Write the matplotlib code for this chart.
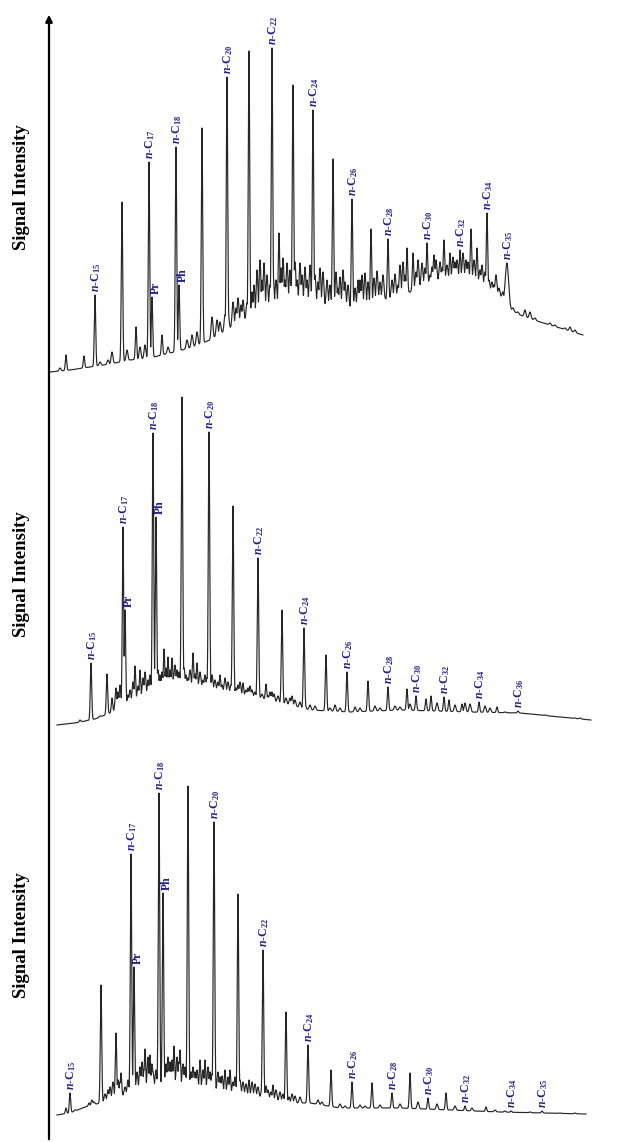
import numpy as np
import matplotlib
matplotlib.use("Agg")
import matplotlib.pyplot as plt

plt.rcParams['font.family'] = ['Liberation Serif', 'DejaVu Serif']
plt.rcParams['mathtext.fontset'] = 'custom'
plt.rcParams['mathtext.rm'] = 'Liberation Serif:bold'
plt.rcParams['mathtext.it'] = 'Liberation Serif:italic:bold'
plt.rcParams['mathtext.bf'] = 'Liberation Serif:bold'
plt.rcParams['mathtext.default'] = 'rm'

# --- Sample 1 (top) : retention position / signal ---
s1_base_rt = [50, 70, 90, 110, 130, 150, 170, 190, 210, 230, 245, 255, 270, 290, 310, 330,
              350, 370, 380, 400, 420, 440, 460, 475, 490, 500, 508, 520, 540, 560, 583]
s1_base_lv = [8, 10, 13, 16, 20, 22, 27, 32, 40, 52, 60, 62, 72, 78, 75, 73,
              72, 73, 80, 83, 93, 100, 103, 100, 90, 85, 72, 65, 58, 52, 45]
s1_peak_rt = [66, 84, 95, 122, 136, 149, 152, 162, 176, 179, 202, 227, 249, 272, 279, 293,
              313, 333, 352, 371, 388, 407, 413, 427, 444, 450, 460, 471, 477, 487, 507]
s1_peak_lv = [25, 24, 85, 178, 53, 218, 83, 45, 233, 95, 252, 303, 329, 332, 147, 295,
              270, 221, 181, 151, 141, 132, 127, 137, 140, 127, 130, 151, 132, 167, 117]
s1_names = ['', '', '15', '', '', '17', 'Pr', '', '18', 'Ph', '', '20', '', '22', '', '',
            '24', '', '26', '', '28', '', '', '30', '', '', '32', '', '', '34', '35']
s1_grass_rt = [60, 100, 108, 112, 127, 140, 145, 168, 187, 192, 197, 212, 217, 220, 225, 228,
               233, 236, 238, 241, 243, 247, 252, 254, 257, 260, 262, 264, 267, 270, 273, 276,
               281, 283, 285, 287, 290, 292, 295, 297, 300, 302, 305, 307, 310, 315, 318, 320,
               323, 327, 330, 336, 338, 340, 343, 345, 348, 355, 358, 360, 362, 365, 368, 374,
               377, 380, 383, 392, 395, 398, 400, 403, 405, 416, 418, 422, 425, 430, 432, 434,
               436, 440, 442, 447, 453, 455, 457, 463, 466, 468, 474, 480, 482, 485, 489, 492,
               494, 496, 499, 503, 513, 518, 525, 530, 535, 550, 555, 565, 570, 575]
s1_grass_lv = [12, 18, 20, 28, 30, 33, 35, 33, 40, 45, 48, 63, 60, 58, 65, 70,
               78, 72, 82, 75, 80, 77, 88, 95, 110, 120, 100, 117, 105, 95, 108, 100,
               112, 122, 100, 117, 110, 105, 118, 100, 117, 105, 113, 100, 115, 105, 98, 112,
               108, 100, 95, 108, 92, 103, 110, 98, 95, 92, 100, 100, 105, 107, 98, 102,
               109, 98, 105, 100, 106, 95, 115, 118, 105, 108, 120, 117, 112, 105, 113, 125,
               120, 118, 112, 115, 123, 118, 120, 127, 120, 118, 120, 110, 115, 108, 100, 98,
               95, 105, 92, 88, 72, 68, 70, 68, 62, 57, 55, 52, 53, 50]

# --- Sample 2 (middle) ---
s2_base_rt = [57, 75, 95, 110, 135, 160, 180, 200, 230, 260, 290, 310, 350, 400, 470, 520, 560, 591]
s2_base_lv = [5, 7, 11, 17, 30, 40, 45, 43, 37, 32, 25, 20, 18, 20, 18, 17, 13, 10]
s2_peak_rt = [80, 91, 107, 112, 123, 125, 135, 140, 153, 156, 164, 168, 172, 182, 193, 197,
              209, 220, 233, 243, 258, 266, 282, 304, 326, 347, 368, 388, 407, 416, 426, 431,
              444, 449, 462, 479, 497, 518]
s2_peak_lv = [10, 67, 56, 32, 203, 120, 64, 60, 297, 213, 81, 73, 72, 333, 77, 67,
              298, 55, 224, 47, 172, 46, 120, 102, 75, 58, 49, 43, 41, 34, 31, 34,
              33, 30, 26, 28, 23, 19]
s2_names = ['', '15', '', '', '17', 'Pr', '', '', '18', 'Ph', '', '', '', '', '', '',
            '20', '', '', '', '22', '', '', '24', '', '26', '', '28', '', '30', '', '',
            '32', '', '', '34', '', '36']
s2_grass_rt = [100, 116, 118, 120, 128, 130, 133, 138, 143, 145, 148, 150, 158, 160, 162, 166,
               170, 174, 175, 177, 179, 184, 186, 188, 190, 195, 200, 203, 205, 207, 212, 215,
               218, 222, 225, 228, 231, 236, 238, 240, 246, 248, 250, 252, 255, 262, 268, 270,
               272, 274, 278, 286, 290, 292, 295, 300, 305, 310, 315, 330, 335, 340, 355, 360,
               375, 380, 395, 400, 410, 437, 455, 465, 470, 485, 490, 505, 510, 530, 545, 575, 580]
s2_grass_lv = [14, 42, 38, 45, 35, 40, 48, 44, 52, 58, 50, 55, 60, 55, 58, 62,
               60, 55, 65, 60, 58, 62, 55, 52, 60, 56, 58, 50, 55, 52, 55, 50,
               48, 45, 52, 48, 45, 42, 45, 48, 40, 42, 44, 40, 38, 36, 34, 38,
               38, 36, 34, 32, 32, 34, 30, 28, 26, 25, 24, 22, 25, 22, 23, 22,
               24, 22, 24, 23, 26, 27, 25, 27, 26, 24, 22, 18, 16, 15, 15, 12, 12]

# --- Sample 3 (bottom) ---
s3_base_rt = [57, 70, 85, 100, 115, 140, 170, 200, 230, 260, 290, 310, 340, 400, 450, 500, 586]
s3_base_lv = [27, 29, 35, 39, 44, 52, 57, 54, 49, 45, 39, 39, 34, 34, 32, 30, 28]
s3_peak_rt = [66, 70, 89, 101, 116, 121, 131, 134, 145, 150, 159, 163, 174, 180, 188, 200,
              205, 214, 225, 230, 238, 249, 263, 273, 286, 308, 331, 352, 372, 392, 410, 428,
              446, 465, 486, 511, 542]
s3_peak_lv = [34, 49, 39, 157, 109, 69, 288, 175, 93, 87, 349, 249, 96, 92, 356, 82,
              82, 320, 72, 72, 248, 62, 192, 57, 130, 97, 72, 60, 59, 49, 69, 44,
              49, 36, 35, 31, 31]
s3_names = ['', '15', '', '', '', '', '17', 'Pr', '', '', '18', 'Ph', '', '', '', '',
            '', '20', '', '', '', '', '22', '', '', '24', '', '26', '', '28', '', '30',
            '', '32', '', '34', '35']
s3_grass_rt = [75, 92, 94, 105, 108, 110, 113, 118, 120, 125, 128, 132, 137, 140, 142, 144,
               148, 152, 153, 156, 166, 168, 170, 172, 177, 179, 183, 185, 191, 193, 195, 197,
               203, 208, 210, 212, 218, 220, 222, 228, 233, 235, 240, 243, 246, 252, 255, 258,
               262, 266, 268, 271, 276, 280, 283, 289, 292, 295, 300, 318, 322, 340, 345, 360,
               365, 380, 400, 418, 437, 455, 472, 495, 505, 530, 560, 575]
s3_grass_lv = [32, 42, 40, 48, 52, 55, 60, 62, 60, 55, 62, 65, 70, 75, 80, 72,
               85, 78, 70, 72, 78, 85, 80, 82, 85, 80, 78, 75, 70, 75, 70, 72,
               72, 75, 70, 68, 70, 65, 66, 65, 60, 65, 62, 60, 58, 60, 58, 55,
               54, 56, 52, 50, 52, 50, 48, 45, 48, 46, 45, 42, 40, 38, 36, 37,
               36, 37, 38, 40, 38, 36, 34, 32, 31, 30, 29, 29]

TRACE = '#262626'
LABEL = '#1d1d9e'


def build_trace(base_rt, base_lv, peak_rt, peak_lv, grass_rt, grass_lv, broad=()):
    t = np.arange(base_rt[0], base_rt[-1], 0.1)
    base = np.interp(t, base_rt, base_lv)
    sig = base.copy()
    for r, h in zip(grass_rt, grass_lv):
        b = np.interp(r, base_rt, base_lv)
        sig = np.maximum(sig, base + (h - b) * np.exp(-0.5 * ((t - r) / 0.9) ** 2))
    for r, h in zip(peak_rt, peak_lv):
        b = np.interp(r, base_rt, base_lv)
        w = 1.6 if r in broad else 0.7
        sig = np.maximum(sig, base + (h - b) * np.exp(-0.5 * ((t - r) / w) ** 2))
    return t, sig


def label_peaks(ax, peak_rt, peak_lv, names):
    for r, h, nm in zip(peak_rt, peak_lv, names):
        if not nm:
            continue
        if nm in ('Pr', 'Ph'):
            txt, dx = nm, 3.0
        else:
            txt, dx = r'$\mathit{n}$-C$_{%s}$' % nm, 1.0
        ax.annotate(txt, xy=(r, h), xytext=(dx, 2), textcoords='offset points',
                    rotation=90, ha='center', va='bottom', color=LABEL,
                    fontsize=8.5, fontweight='bold')


W, H = 620, 1142
fig = plt.figure(figsize=(W / 100, H / 100), dpi=100)

panels = [
    (0, 380, (s1_base_rt, s1_base_lv, s1_peak_rt, s1_peak_lv, s1_grass_rt, s1_grass_lv),
     s1_names, (507,)),
    (380, 730, (s2_base_rt, s2_base_lv, s2_peak_rt, s2_peak_lv, s2_grass_rt, s2_grass_lv),
     s2_names, ()),
    (730, 1142, (s3_base_rt, s3_base_lv, s3_peak_rt, s3_peak_lv, s3_grass_rt, s3_grass_lv),
     s3_names, ()),
]

for top, bottom, data, names, broad in panels:
    ax = fig.add_axes([0, 1 - bottom / H, 1, (bottom - top) / H])
    t, sig = build_trace(*data, broad=broad)
    ax.plot(t, sig, color=TRACE, lw=0.85)
    label_peaks(ax, data[2], data[3], names)
    ax.set_xlim(0, W)
    ax.set_ylim(0, bottom - top)
    ax.axis('off')

# y axis with arrow, shared by the three chromatograms
fig.add_artist(matplotlib.patches.FancyArrowPatch(
    (49 / W, 0), (49 / W, 1 - 12 / H), transform=fig.transFigure,
    arrowstyle='-|>', mutation_scale=10, lw=1.6, color='black'))

for yc in (187, 574, 935):
    fig.text(22 / W, 1 - yc / H, 'Signal Intensity', rotation=90, ha='center', va='center',
             fontsize=13.5, fontweight='bold')

fig.savefig('out.png', dpi=100)
